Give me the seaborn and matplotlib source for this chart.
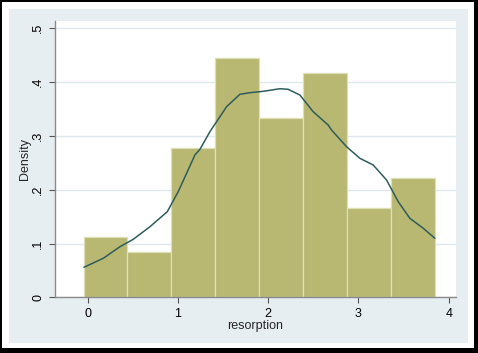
import numpy as np
import pandas as pd
import matplotlib
matplotlib.use("Agg")
import matplotlib.pyplot as plt
from matplotlib.patches import Rectangle
import seaborn as sns

# ---- data ----
bin_edges = [-0.045, 0.441, 0.927, 1.413, 1.899, 2.385, 2.871, 3.357, 3.843]
bin_counts = [4, 3, 10, 16, 12, 15, 6, 8]
kde_x = [-0.041, 0.173, 0.358, 0.505, 0.690, 0.882, 1.003, 1.188, 1.244, 1.354,
         1.391, 1.539, 1.686, 1.797, 1.945, 2.130, 2.221, 2.351, 2.498, 2.664,
         2.701, 2.868, 3.015, 3.163, 3.311, 3.440, 3.569, 3.717, 3.846]
kde_y = [0.0558, 0.0725, 0.0941, 0.1078, 0.1312, 0.1591, 0.1963, 0.2645, 0.2751, 0.3078,
         0.3171, 0.3543, 0.3773, 0.3803, 0.3829, 0.3877, 0.3866, 0.3760, 0.3450, 0.3203,
         0.3110, 0.2799, 0.2584, 0.2459, 0.2180, 0.1777, 0.1468, 0.1283, 0.1097]
x_ticks = [0, 1, 2, 3, 4]
x_tick_labels = ["0", "1", "2", "3", "4"]
y_ticks = [0, 0.1, 0.2, 0.3, 0.4, 0.5]
y_tick_labels = ["0", ".1", ".2", ".3", ".4", ".5"]

sns.set_theme(style="white")
plt.rcParams['font.family'] = ['Liberation Sans', 'DejaVu Sans']

W, H = 478, 353
fig = plt.figure(figsize=(W / 100, H / 100), dpi=100)
fig.patch.set_facecolor("white")

# outer panel and black frame
fig.patches.append(Rectangle((9 / W, 1 - 343 / H), (468 - 9) / W, (343 - 9) / H,
                             transform=fig.transFigure, facecolor="#e7eef1",
                             edgecolor="none", zorder=-2))
for (x0, y0, w, h) in [(0, 0, 2, H), (0, 0, W, 2), (W - 4, 0, 4, H), (0, H - 5, W, 5)]:
    fig.patches.append(Rectangle((x0 / W, 1 - (y0 + h) / H), w / W, h / H,
                                 transform=fig.transFigure, facecolor="black",
                                 edgecolor="none", zorder=-1))

ax = fig.add_axes([54.7 / W, 1 - 297.3 / H, (456 - 54.7) / W, (297.3 - 21) / H])
ax.set_facecolor("white")

centers = [(bin_edges[i] + bin_edges[i + 1]) / 2 for i in range(len(bin_counts))]
df = pd.DataFrame({"resorption": centers, "n": bin_counts})
sns.histplot(data=df, x="resorption", weights="n", bins=bin_edges, stat="density",
             color="#b8b872", alpha=1, edgecolor="#dedfb4", linewidth=0.9, ax=ax, zorder=2)
sns.lineplot(x=kde_x, y=kde_y, color="#2f5c5c", linewidth=1.1, ax=ax, zorder=3)

ax.set_xlim(-0.365, 4.08)
ax.set_ylim(0, 0.5136)
ax.set_xticks(x_ticks)
ax.set_xticklabels(x_tick_labels, fontsize=9)
ax.set_yticks(y_ticks)
ax.set_yticklabels(y_tick_labels, fontsize=9, rotation=90, va="center")
ax.yaxis.grid(True, color="#dfe8ec", linewidth=1.0, zorder=0)
ax.set_axisbelow(True)
ax.tick_params(axis="both", which="both", direction="out", length=4.5, width=0.8,
               color="#555555", labelcolor="black", bottom=True, left=True, pad=3)
for s in ["top", "right"]:
    ax.spines[s].set_visible(False)
for s in ["left", "bottom"]:
    ax.spines[s].set_color("#8a8a8a")
    ax.spines[s].set_linewidth(1.0)
ax.set_xlabel("resorption", fontsize=9, labelpad=0)
ax.set_ylabel("Density", fontsize=9, labelpad=1)

fig.savefig("out.png", dpi=100)
